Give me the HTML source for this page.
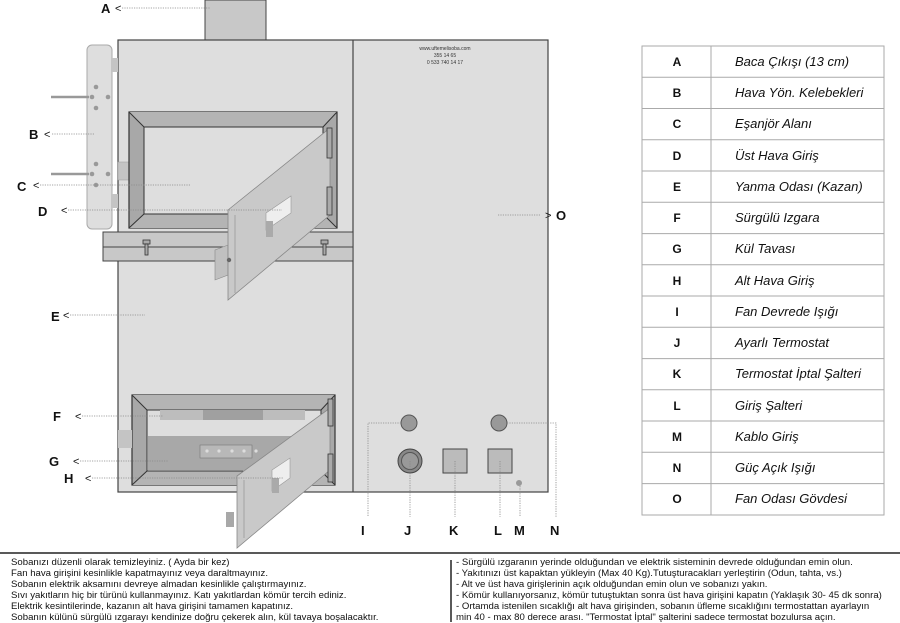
<!DOCTYPE html>
<html><head><meta charset="utf-8"><style>
body{margin:0;background:#fff;width:900px;height:623px;overflow:hidden;font-family:"Liberation Sans",sans-serif}
svg{position:absolute;left:0;top:0}
</style></head><body>
<svg width="900" height="623" viewBox="0 0 900 623" font-family="Liberation Sans, sans-serif">
<!-- chimney -->
<rect x="205" y="0" width="61" height="40" fill="#c8c8c8" stroke="#444" stroke-width="1"/>
<!-- body -->
<rect x="118" y="40" width="430" height="452" fill="#dedede" stroke="#444" stroke-width="1.2"/>
<line x1="353" y1="40" x2="353" y2="492" stroke="#444" stroke-width="1.2"/>
<text x="445" y="50" font-size="5" text-anchor="middle" fill="#333">www.uftemelisoba.com</text>
<text x="445" y="57" font-size="5" text-anchor="middle" fill="#333">355 14 65</text>
<text x="445" y="64" font-size="5" text-anchor="middle" fill="#333">0 533 740 14 17</text>
<!-- side panel -->
<rect x="87" y="45" width="25" height="184" rx="5" fill="#dedede" stroke="#aaa"/>
<rect x="112" y="58" width="6" height="14" fill="#c4c4c4"/>
<rect x="112" y="194" width="6" height="14" fill="#c4c4c4"/>
<rect x="118" y="162" width="15" height="18" fill="#c4c4c4" stroke="#999" stroke-width=".5"/>
<line x1="51" y1="97" x2="89" y2="97" stroke="#999" stroke-width="2.5"/>
<line x1="51" y1="174" x2="89" y2="174" stroke="#999" stroke-width="2.5"/>
<g fill="#999"><circle cx="96" cy="87" r="2.3"/><circle cx="92" cy="97" r="2.3"/><circle cx="108" cy="97" r="2.3"/><circle cx="96" cy="108" r="2.3"/>
<circle cx="96" cy="164" r="2.3"/><circle cx="92" cy="174" r="2.3"/><circle cx="108" cy="174" r="2.3"/><circle cx="96" cy="185" r="2.3"/></g>
<!-- upper frame -->
<rect x="129" y="112" width="208" height="116" fill="#a8a8a8" stroke="#333" stroke-width="1.2"/>
<polygon points="129,112 337,112 323,127 144,127" fill="#b4b4b4"/>
<polygon points="129,228 337,228 323,214 144,214" fill="#b4b4b4"/>
<rect x="144" y="127" width="179" height="87" fill="#dedede" stroke="#333" stroke-width="1"/>
<line x1="129" y1="112" x2="144" y2="127" stroke="#333"/><line x1="337" y1="112" x2="323" y2="127" stroke="#333"/>
<line x1="129" y1="228" x2="144" y2="214" stroke="#333"/><line x1="337" y1="228" x2="323" y2="214" stroke="#333"/>
<!-- shelf -->
<rect x="103" y="232" width="250" height="29" fill="#c8c8c8" stroke="#444"/>
<line x1="103" y1="247" x2="353" y2="247" stroke="#444"/>
<g fill="#aaa" stroke="#333" stroke-width=".8"><rect x="143" y="240" width="7" height="4"/><rect x="145" y="244" width="3" height="11"/><rect x="321" y="240" width="7" height="4"/><rect x="323" y="244" width="3" height="11"/></g>
<!-- upper door -->
<polygon points="215,250 228,245 228,275 215,280" fill="#c0c0c0" stroke="#888" stroke-width=".6"/>
<polygon points="228,210 330,128 330,215 228,300" fill="#c9c9c9" stroke="#888" stroke-width=".8"/>
<line x1="235" y1="215" x2="235" y2="293" stroke="#999" stroke-width=".8"/>
<polygon points="266,213 291,196 291,213 266,230" fill="#eee" stroke="#999" stroke-width=".6"/>
<rect x="266" y="221" width="7" height="16" fill="#aaa"/>
<circle cx="229" cy="260" r="2.2" fill="#666"/>
<rect x="327" y="128" width="5" height="30" fill="#aaa" stroke="#333" stroke-width=".8"/>
<rect x="327" y="187" width="5" height="28" fill="#aaa" stroke="#333" stroke-width=".8"/>
<!-- lower frame -->
<rect x="132" y="395" width="203" height="90" fill="#a8a8a8" stroke="#333" stroke-width="1.2"/>
<polygon points="132,395 335,395 321,410 147,410" fill="#b4b4b4"/>
<polygon points="132,485 335,485 321,471 147,471" fill="#b4b4b4"/>
<rect x="147" y="410" width="174" height="61" fill="#dedede" stroke="#333" stroke-width="1"/>
<rect x="148" y="436" width="150" height="34" fill="#a8a8a8"/>
<rect x="200" y="445" width="52" height="13" fill="#b8b8b8" stroke="#777" stroke-width=".6"/>
<g fill="#ddd"><circle cx="207" cy="451" r="1.6"/><circle cx="219" cy="451" r="1.6"/><circle cx="232" cy="451" r="1.6"/><circle cx="244" cy="451" r="1.6"/><circle cx="256" cy="451" r="1.6"/></g>
<rect x="160" y="410" width="145" height="10" fill="#bdbdbd"/><rect x="203" y="410" width="60" height="10" fill="#a0a0a0"/>
<line x1="132" y1="395" x2="147" y2="410" stroke="#333"/><line x1="335" y1="395" x2="321" y2="410" stroke="#333"/>
<line x1="132" y1="485" x2="147" y2="471" stroke="#333"/><line x1="335" y1="485" x2="321" y2="471" stroke="#333"/>
<rect x="118" y="430" width="14" height="18" fill="#c4c4c4"/>
<!-- lower door -->
<rect x="226" y="512" width="8" height="15" fill="#a8a8a8"/>
<polygon points="237,476 330,408 330,470 237,548" fill="#c9c9c9" stroke="#888" stroke-width=".8"/>
<line x1="244" y1="480" x2="244" y2="538" stroke="#999" stroke-width=".8"/>
<polygon points="272,470 290,458 290,478 272,491" fill="#eee" stroke="#999" stroke-width=".6"/>
<rect x="272" y="478" width="7" height="15" fill="#aaa"/>
<rect x="328" y="399" width="5" height="27" fill="#aaa" stroke="#333" stroke-width=".8"/>
<rect x="328" y="454" width="5" height="28" fill="#aaa" stroke="#333" stroke-width=".8"/>
<!-- controls -->
<circle cx="409" cy="423" r="8" fill="#999" stroke="#555"/>
<circle cx="499" cy="423" r="8" fill="#999" stroke="#555"/>
<circle cx="410" cy="461" r="12" fill="#888" stroke="#444"/><circle cx="410" cy="461" r="8.5" fill="#999" stroke="#555"/>
<rect x="443" y="449" width="24" height="24" fill="#bbb" stroke="#444"/>
<rect x="488" y="449" width="24" height="24" fill="#bbb" stroke="#444"/>
<circle cx="519" cy="483" r="3" fill="#999"/>
<!-- leaders -->
<g stroke="#888" stroke-width=".8" stroke-dasharray="1.2,1.2" fill="none">
<line x1="122" y1="8" x2="210" y2="8"/><line x1="52" y1="134" x2="95" y2="134"/>
<line x1="40" y1="185" x2="190" y2="185"/><line x1="68" y1="210" x2="282" y2="210"/>
<line x1="70" y1="315" x2="145" y2="315"/><line x1="498" y1="215" x2="540" y2="215"/>
<line x1="82" y1="416" x2="163" y2="416"/><line x1="80" y1="461" x2="168" y2="461"/><line x1="92" y1="478" x2="283" y2="478"/>
<polyline points="401,423 368,423 368,517"/><line x1="410" y1="461" x2="410" y2="517"/>
<line x1="455" y1="461" x2="455" y2="517"/><line x1="500" y1="461" x2="500" y2="517"/>
<line x1="520" y1="486" x2="520" y2="517"/><polyline points="507,423 556,423 556,517"/>
</g>
<g font-size="13" font-weight="bold" fill="#111">
<text x="101" y="13">A</text><text x="29" y="139">B</text><text x="17" y="191">C</text><text x="38" y="216">D</text>
<text x="51" y="321">E</text><text x="556" y="220">O</text><text x="53" y="421">F</text><text x="49" y="466">G</text><text x="64" y="483">H</text>
<text x="361" y="535">I</text><text x="404" y="535">J</text><text x="449" y="535">K</text><text x="494" y="535">L</text><text x="514" y="535">M</text><text x="550" y="535">N</text>
</g>
<g font-size="11" fill="#111"><text x="115" y="12">&lt;</text><text x="44" y="138">&lt;</text><text x="33" y="189">&lt;</text><text x="61" y="214">&lt;</text><text x="63" y="319">&lt;</text><text x="545" y="219">&gt;</text><text x="75" y="420">&lt;</text><text x="73" y="465">&lt;</text><text x="85" y="482">&lt;</text></g>
<!-- table -->
<g stroke="#aaa" stroke-width="1" fill="none"><rect x="642" y="46" width="242" height="469"/><line x1="711" y1="46" x2="711" y2="515"/>
<line x1="642" y1="77.3" x2="884" y2="77.3"/><line x1="642" y1="108.5" x2="884" y2="108.5"/><line x1="642" y1="139.8" x2="884" y2="139.8"/><line x1="642" y1="171" x2="884" y2="171"/><line x1="642" y1="202.3" x2="884" y2="202.3"/><line x1="642" y1="233.6" x2="884" y2="233.6"/><line x1="642" y1="264.8" x2="884" y2="264.8"/><line x1="642" y1="296" x2="884" y2="296"/><line x1="642" y1="327.3" x2="884" y2="327.3"/><line x1="642" y1="358.6" x2="884" y2="358.6"/><line x1="642" y1="389.8" x2="884" y2="389.8"/><line x1="642" y1="421" x2="884" y2="421"/><line x1="642" y1="452.3" x2="884" y2="452.3"/><line x1="642" y1="483.6" x2="884" y2="483.6"/></g>
<g font-size="12" font-weight="bold" text-anchor="middle" fill="#111">
<text x="677" y="66">A</text><text x="677" y="97">B</text><text x="677" y="128">C</text><text x="677" y="160">D</text><text x="677" y="191">E</text><text x="677" y="222">F</text><text x="677" y="253">G</text><text x="677" y="285">H</text><text x="677" y="316">I</text><text x="677" y="347">J</text><text x="677" y="378">K</text><text x="677" y="410">L</text><text x="677" y="441">M</text><text x="677" y="472">N</text><text x="677" y="503">O</text></g>
<g font-size="13" font-style="italic" fill="#111">
<text x="735" y="66">Baca Çıkışı (13 cm)</text><text x="735" y="97">Hava Yön. Kelebekleri</text><text x="735" y="128">Eşanjör Alanı</text><text x="735" y="160">Üst Hava Giriş</text><text x="735" y="191">Yanma Odası (Kazan)</text><text x="735" y="222">Sürgülü Izgara</text><text x="735" y="253">Kül Tavası</text><text x="735" y="285">Alt Hava Giriş</text><text x="735" y="316">Fan Devrede Işığı</text><text x="735" y="347">Ayarlı Termostat</text><text x="735" y="378">Termostat İptal Şalteri</text><text x="735" y="410">Giriş Şalteri</text><text x="735" y="441">Kablo Giriş</text><text x="735" y="472">Güç Açık Işığı</text><text x="735" y="503">Fan Odası Gövdesi</text></g>
<!-- bottom -->
<line x1="0" y1="553" x2="900" y2="553" stroke="#222" stroke-width="1.5"/>
<line x1="451" y1="560" x2="451" y2="622" stroke="#222" stroke-width="1.5"/>
<g font-size="9.6" fill="#111">
<text x="11" y="565">Sobanızı düzenli olarak temizleyiniz. ( Ayda bir kez)</text>
<text x="11" y="576">Fan hava girişini kesinlikle kapatmayınız veya daraltmayınız.</text>
<text x="11" y="587">Sobanın elektrik aksamını devreye almadan kesinlikle çalıştırmayınız.</text>
<text x="11" y="598">Sıvı yakıtların hiç bir türünü kullanmayınız. Katı yakıtlardan kömür tercih ediniz.</text>
<text x="11" y="609">Elektrik kesintilerinde, kazanın alt hava girişini tamamen kapatınız.</text>
<text x="11" y="620">Sobanın külünü sürgülü ızgarayı kendinize doğru çekerek alın, kül tavaya boşalacaktır.</text>
<text x="456" y="565">- Sürgülü ızgaranın yerinde olduğundan ve elektrik sisteminin devrede olduğundan emin olun.</text>
<text x="456" y="576">- Yakıtınızı üst kapaktan yükleyin (Max 40 Kg).Tutuşturacakları yerleştirin (Odun, tahta, vs.)</text>
<text x="456" y="587">- Alt ve üst hava girişlerinin açık olduğundan emin olun ve sobanızı yakın.</text>
<text x="456" y="598">- Kömür kullanıyorsanız, kömür tutuştuktan sonra üst hava girişini kapatın (Yaklaşık 30- 45 dk sonra)</text>
<text x="456" y="609">- Ortamda istenilen sıcaklığı alt hava girişinden, sobanın üfleme sıcaklığını termostattan ayarlayın</text>
<text x="456" y="620">min 40 - max 80 derece arası. "Termostat İptal" şalterini sadece termostat bozulursa açın.</text>
</g>
</svg>
</body></html>
